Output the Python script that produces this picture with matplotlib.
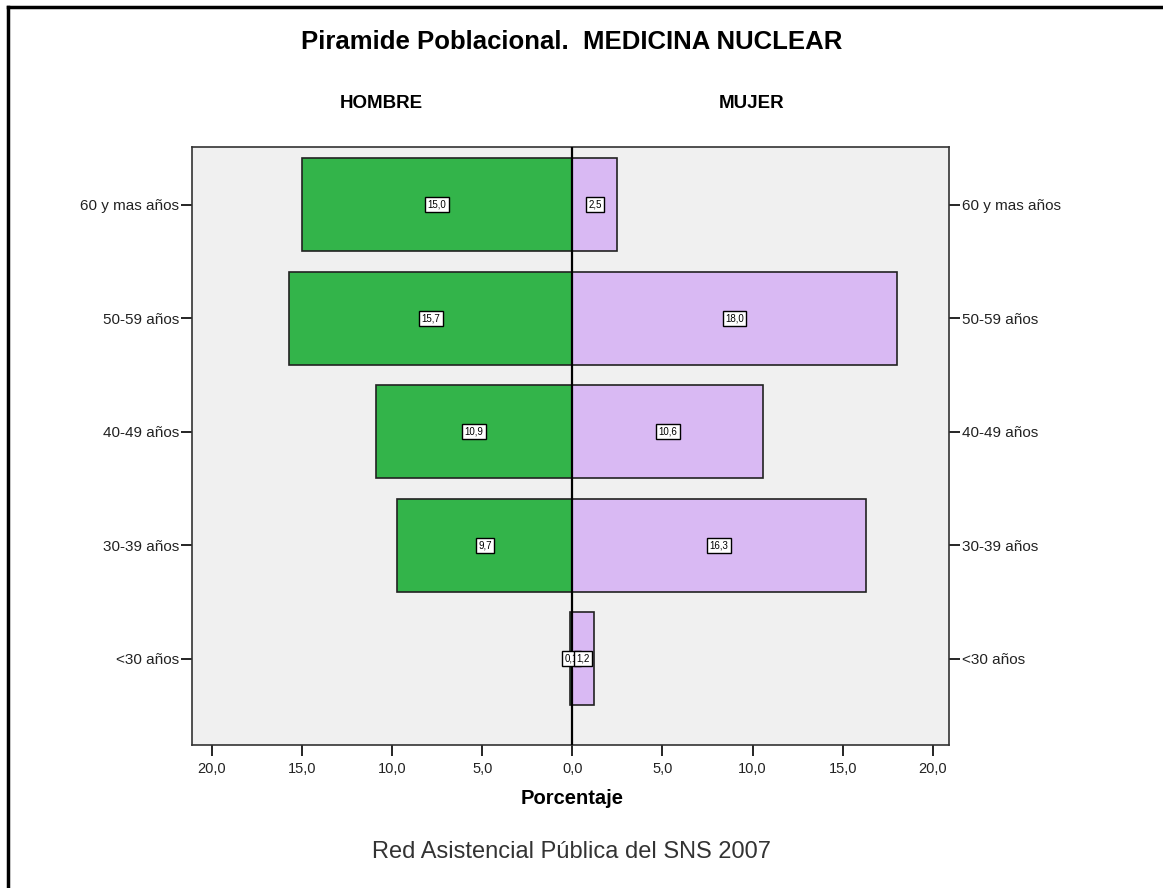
import matplotlib
matplotlib.use("Agg")
import matplotlib.pyplot as plt
from matplotlib.lines import Line2D
import numpy as np

plt.rcParams['font.family'] = ['Liberation Sans', 'DejaVu Sans']

categories = ["<30 años", "30-39 años", "40-49 años", "50-59 años", "60 y mas años"]
hombre = [0.1, 9.7, 10.9, 15.7, 15.0]
mujer = [1.2, 16.3, 10.6, 18.0, 2.5]
xticks = [-20, -15, -10, -5, 0, 5, 10, 15, 20]

green = "#33b44a"
purple = "#d9b9f3"

fig = plt.figure(figsize=(11.63, 8.88), dpi=100)
W, H = 1163, 888
ax = fig.add_axes([192 / W, 1 - 745 / H, (949 - 192) / W, (745 - 147) / H])
ax.set_facecolor("#f0f0f0")

y = np.arange(len(categories))
bh = 0.82
ax.barh(y, [-v for v in hombre], height=bh, color=green, edgecolor="#222222", linewidth=1.2, zorder=2)
ax.barh(y, mujer, height=bh, color=purple, edgecolor="#222222", linewidth=1.2, zorder=2)
ax.axvline(0, color="black", linewidth=1.6, zorder=3)

def fmt(v):
    return f"{v:.1f}".replace(".", ",")

for i, v in enumerate(hombre):
    ax.text(-v / 2, y[i], fmt(v), ha="center", va="center", fontsize=7, zorder=4,
            bbox=dict(boxstyle="square,pad=0.25", fc="white", ec="black", lw=1))
for i, v in enumerate(mujer):
    ax.text(v / 2, y[i], fmt(v), ha="center", va="center", fontsize=7, zorder=5,
            bbox=dict(boxstyle="square,pad=0.25", fc="white", ec="black", lw=1))

ax.set_xlim(-21.1, 20.9)
ax.set_ylim(-0.76, 4.51)
ax.set_xticks(xticks)
ax.set_xticklabels([fmt(abs(t)) for t in xticks], fontsize=10.5, color="#222222")
ax.set_yticks(y)
ax.set_yticklabels(categories, fontsize=11, color="#222222")
ax.tick_params(axis="y", which="both", left=True, right=True, labelleft=True, labelright=True,
               length=8, width=1.2, direction="out", pad=1)
ax.tick_params(axis="x", length=8, width=1.2, direction="out", pad=4)
for s in ax.spines.values():
    s.set_color("#333333")
    s.set_linewidth(1.2)

fig.text(572 / W, 1 - 42 / H, "Piramide Poblacional.  MEDICINA NUCLEAR", ha="center", va="center",
         fontsize=18.5, fontweight="bold")
fig.text(381 / W, 1 - 103 / H, "HOMBRE", ha="center", va="center", fontsize=13.5, fontweight="bold")
fig.text(752 / W, 1 - 103 / H, "MUJER", ha="center", va="center", fontsize=13.5, fontweight="bold")
fig.text(572 / W, 1 - 798 / H, "Porcentaje", ha="center", va="center", fontsize=14.5, fontweight="bold")
fig.text(572 / W, 1 - 852 / H, "Red Asistencial Pública del SNS 2007", ha="center", va="center",
         fontsize=17, color="#333333")

fig.add_artist(Line2D([8 / W, 1], [1 - 7 / H, 1 - 7 / H], transform=fig.transFigure, color="black", lw=2.5))
fig.add_artist(Line2D([8 / W, 8 / W], [1 - 7 / H, 0], transform=fig.transFigure, color="black", lw=2.5))

fig.savefig("out.png", dpi=100)
